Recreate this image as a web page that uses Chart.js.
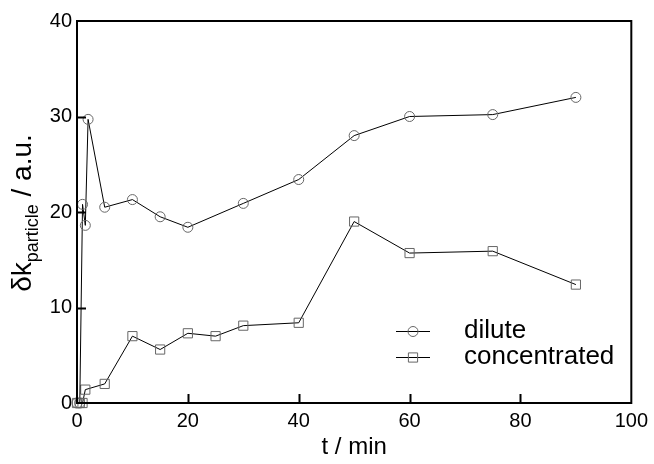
<!DOCTYPE html>
<html>
<head>
<meta charset="utf-8">
<script src="https://cdn.jsdelivr.net/npm/chart.js@4/dist/chart.umd.min.js"></script>
<style>
  html, body { margin: 0; padding: 0; background: #fff; }
  #wrap { width: 654px; height: 464px; position: relative; }
</style>
</head>
<body>
<div id="wrap"><canvas id="c"></canvas></div>
<script>
// ─── data ───────────────────────────────────────────────────────────────────
const diluteT   = [0, 0.5, 1, 1.5, 2, 5, 10, 15, 20, 30, 40, 50, 60, 75, 90];
const diluteK   = [0, 0, 20.8, 18.6, 29.7, 20.5, 21.3, 19.5, 18.4, 20.9, 23.4, 28.0, 30.0, 30.2, 32.0];
const concT     = [0, 0.5, 1, 1.5, 5, 10, 15, 20, 25, 30, 40, 50, 60, 75, 90];
const concK     = [0, 0, 0, 1.4, 2.0, 7.0, 5.6, 7.3, 7.0, 8.1, 8.4, 19.0, 15.7, 15.9, 12.4];
const xTicks    = [0, 20, 40, 60, 80, 100];
const yTicks    = [0, 10, 20, 30, 40];
const seriesNames = ['dilute', 'concentrated'];

const FONT = '"Liberation Sans", Arial, sans-serif';
const pts = (xs, ys) => xs.map((x, i) => ({ x, y: ys[i] }));

const base = {
  borderColor: '#000', borderWidth: 1, backgroundColor: 'transparent',
  pointBorderColor: '#666', pointBackgroundColor: 'transparent', pointBorderWidth: 1,
  tension: 0, clip: false,
};

// inward ticks + frame on top/right
const frame = {
  id: 'frame',
  afterDatasetsDraw(chart) {
    const { ctx, chartArea: a, scales: { x, y } } = chart;
    ctx.save();
    ctx.strokeStyle = '#000';
    ctx.lineWidth = 2;
    ctx.strokeRect(a.left, a.top, a.right - a.left, a.bottom - a.top);
    ctx.beginPath();
    xTicks.slice(1, -1).forEach(v => { const px = Math.round(x.getPixelForValue(v)) + 0.5; ctx.moveTo(px, a.bottom); ctx.lineTo(px, a.bottom - 9); });
    yTicks.slice(1, -1).forEach(v => { const py = Math.round(y.getPixelForValue(v)) + 0.5; ctx.moveTo(a.left, py); ctx.lineTo(a.left + 9, py); });
    ctx.stroke();
    ctx.restore();
  },
};

// y title with subscript
const yTitle = {
  id: 'yTitle',
  afterDraw(chart) {
    const { ctx } = chart;
    const big = '28px ' + FONT, small = '18px ' + FONT;
    const p1 = 'δk', p2 = 'particle', p3 = ' / a.u.';
    ctx.save();
    ctx.font = big;  const w1 = ctx.measureText(p1).width, w3 = ctx.measureText(p3).width;
    ctx.font = small; const w2 = ctx.measureText(p2).width;
    ctx.translate(31, 213);
    ctx.rotate(-Math.PI / 2);
    ctx.fillStyle = '#000';
    ctx.textBaseline = 'alphabetic';
    let s = -(w1 + w2 + w3) / 2;
    ctx.font = big;   ctx.fillText(p1, s, 0); s += w1;
    ctx.font = small; ctx.fillText(p2, s, 7); s += w2;
    ctx.font = big;   ctx.fillText(p3, s, 0);
    ctx.restore();
  },
};

// legend: line through an open marker, then label
const legendBox = {
  id: 'legendBox',
  afterDraw(chart) {
    const { ctx } = chart;
    ctx.save();
    ctx.font = '26px ' + FONT;
    ctx.textBaseline = 'middle';
    chart.data.datasets.forEach((ds, i) => {
      const yy = 331 + i * 26;
      ctx.strokeStyle = '#000'; ctx.lineWidth = 1;
      ctx.beginPath(); ctx.moveTo(396, yy + 0.5); ctx.lineTo(430, yy + 0.5); ctx.stroke();
      ctx.strokeStyle = '#666'; ctx.fillStyle = 'rgba(0,0,0,0)';
      Chart.helpers.drawPoint(ctx, {
        pointStyle: ds.pointStyle, radius: ds.pointRadius, borderWidth: 1,
      }, 413, yy + 0.5);
      ctx.fillStyle = '#000';
      ctx.fillText(ds.label, 464, yy);
    });
    ctx.restore();
  },
};

new Chart(document.getElementById('c'), {
  type: 'line',
  data: {
    datasets: [
      { ...base, label: seriesNames[0], data: pts(diluteT, diluteK), pointStyle: 'circle', pointRadius: 5 },
      { ...base, label: seriesNames[1], data: pts(concT, concK), pointStyle: 'rect', pointRadius: 6.5 },
    ],
  },
  options: {
    responsive: true, maintainAspectRatio: false, animation: false,
    layout: { padding: { top: 21, right: 19, left: 0, bottom: 0 } },
    plugins: { legend: { display: false }, tooltip: { enabled: false } },
    scales: {
      x: {
        type: 'linear', min: 0, max: 100,
        afterFit: s => { s.height = 61; },
        afterBuildTicks: s => { s.ticks = xTicks.map(v => ({ value: v })); },
        grid: { display: false, drawTicks: false },
        border: { display: true, color: '#000', width: 2 },
        ticks: { color: '#000', font: { family: FONT, size: 20 }, padding: 6, maxRotation: 0 },
        title: { display: true, text: 't / min', color: '#000', font: { family: FONT, size: 24 }, padding: { top: 0, bottom: 2 } },
      },
      y: {
        min: 0, max: 40,
        afterFit: s => { s.width = 77; },
        afterBuildTicks: s => { s.ticks = yTicks.map(v => ({ value: v })); },
        grid: { display: false, drawTicks: false },
        border: { display: true, color: '#000', width: 2 },
        ticks: { color: '#000', font: { family: FONT, size: 20 }, padding: 5 },
      },
    },
  },
  plugins: [frame, yTitle, legendBox],
});
</script>
</body>
</html>
